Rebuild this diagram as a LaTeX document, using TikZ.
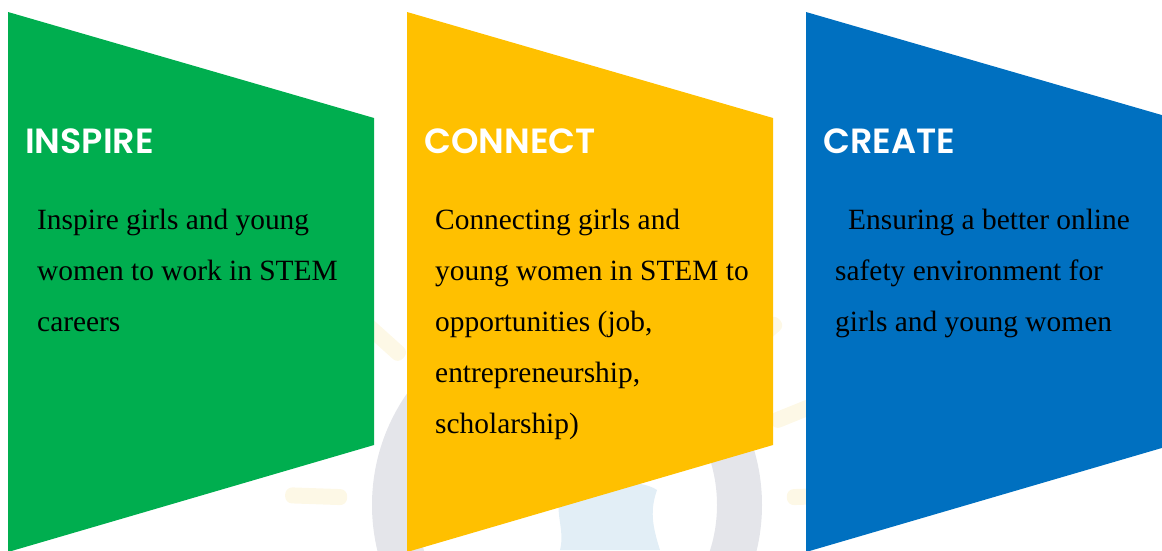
\documentclass[tikz,border=0pt]{standalone}
\usepackage{fontspec}
\usetikzlibrary{calc}
\setmainfont{Liberation Serif}
\newfontfamily\titlefont{Poppins SemiBold}
\definecolor{cgreen}{HTML}{00AE4F}
\definecolor{cyellow}{HTML}{FFC000}
\definecolor{cblue}{HTML}{0070C0}
\definecolor{wring}{HTML}{E4E5EA}
\definecolor{wsil}{HTML}{E2EEF6}
\definecolor{wray}{HTML}{FDF8E6}
\tikzset{
  ptitle/.style={anchor=base west, inner sep=0pt, text=white, font={\titlefont\fontsize{35}{35}\selectfont}},
  pbody/.style={anchor=base west, inner sep=0pt, align=left, text=black, font={\fontsize{29.4}{51}\selectfont}},
}
\begin{document}
\begin{tikzpicture}[x=1pt,y=-1pt]
\useasboundingbox (0,0) rectangle (1162,550);
% faint watermark behind the panels
\fill[wring, even odd rule] (567,505) circle (195) (567,505) circle (150);
\fill[wsil] (560,495) .. controls (590,480) and (640,478) .. (657,490)
  .. controls (650,510) and (652,525) .. (660,550) -- (560,550) .. controls (565,530) and (555,515) .. (560,495) -- cycle;
\foreach \a in {2,22,41,60,80,100,119,138,158,178}{
  \fill[wray, rounded corners=7pt, rotate around={\a:(567,505)}]
    ($(567,505)+(220,-8)$) rectangle ($(567,505)+(282,8)$);
}
% panels
\fill[cgreen] (8,12) coordinate (g1) -- (374,118) coordinate (g2) -- (374,445) coordinate (g3) -- (8,552) coordinate (g4) -- cycle;
\fill[cyellow] (407,12) coordinate (y1) -- (773,118) coordinate (y2) -- (773,445) coordinate (y3) -- (407,552) coordinate (y4) -- cycle;
\fill[cblue] (806,12) coordinate (b1) -- (1172,118) coordinate (b2) -- (1172,445) coordinate (b3) -- (806,552) coordinate (b4) -- cycle;
% titles
\node[ptitle] (t1) at (25,153) {INSPIRE};
\node[ptitle] (t2) at (424,153) {CONNECT};
\node[ptitle] (t3) at (823,153) {CREATE};
% bodies (base anchor = baseline of the last line)
\node[pbody] (d1) at (37,331) {Inspire girls and young\\women to work in STEM\\careers};
\node[pbody] (d2) at (435,433) {Connecting girls and\\young women in STEM to\\opportunities (job,\\entrepreneurship,\\scholarship)};
\node[pbody] (d3) at (835,331) {\hspace{13pt}Ensuring a better online\\safety environment for\\girls and young women};
\end{tikzpicture}
\end{document}
